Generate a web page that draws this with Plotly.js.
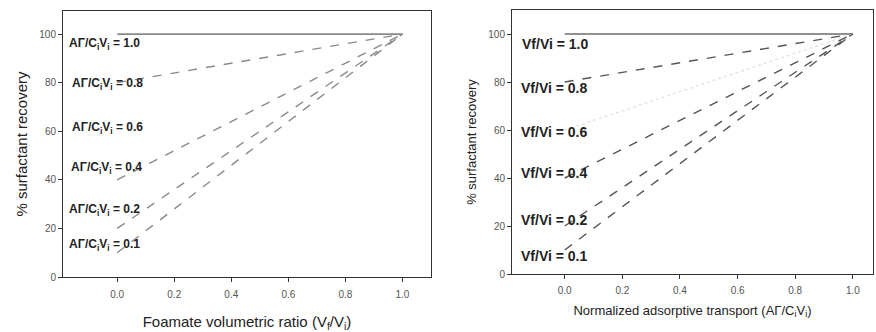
<!DOCTYPE html>
<html><head><meta charset="utf-8">
<script src="https://cdn.plot.ly/plotly-3.0.1.min.js"></script>
<style>html,body{margin:0;padding:0;background:#fff}#c{width:876px;height:332px}</style>
</head><body><div id="c"></div>
<script>
// Data
const xEnds = [0.0, 1.0];
const ratioValues = [1.0, 0.8, 0.6, 0.4, 0.2, 0.1];
const recoveryAtZero = [100, 80, 60, 40, 20, 10];
const recoveryAtOne = [100, 100, 100, 100, 100, 100];
const tickVals = [0.0, 0.2, 0.4, 0.6, 0.8, 1.0];
const tickText = ["0.0", "0.2", "0.4", "0.6", "0.8", "1.0"];
const leftLabels = ["AΓ/C<sub>i</sub>V<sub>i</sub> = 1.0","AΓ/C<sub>i</sub>V<sub>i</sub> = 0.8","AΓ/C<sub>i</sub>V<sub>i</sub> = 0.6","AΓ/C<sub>i</sub>V<sub>i</sub> = 0.4","AΓ/C<sub>i</sub>V<sub>i</sub> = 0.2","AΓ/C<sub>i</sub>V<sub>i</sub> = 0.1"];
const rightLabels = ["Vf/Vi = 1.0","Vf/Vi = 0.8","Vf/Vi = 0.6","Vf/Vi = 0.4","Vf/Vi = 0.2","Vf/Vi = 0.1"];

// placement (styles)
const leftLabelPos = [[-0.175,95.9],[-0.165,79.4],[-0.165,61.3],[-0.168,44.9],[-0.175,27.6],[-0.175,13.2]];
const rightLabelPos = [[-0.155,95.8],[-0.16,77.5],[-0.16,59.2],[-0.16,42.0],[-0.16,22.5],[-0.16,7.5]];

const traces = [];
ratioValues.forEach((r,i)=>{
  const y=[recoveryAtZero[i], recoveryAtOne[i]];
  const solid = i===0, faint = r===0.6;
  traces.push({x:xEnds, y:y, xaxis:'x', yaxis:'y', mode:'lines', hoverinfo:'skip', showlegend:false,
    line:{color: solid?'#333':(faint?'rgba(0,0,0,0)':'#8a8a8a'), width: solid?1:1.4, dash: solid?'solid':'dash'}});
  traces.push({x:xEnds, y:y, xaxis:'x2', yaxis:'y2', mode:'lines', hoverinfo:'skip', showlegend:false,
    line:{color: solid?'#222':(faint?'#e2e2e2':'#555'), width: solid?1:1.4, dash: solid?'solid':(faint?'dot':'dash')}});
});

const ann = [];
leftLabels.forEach((t,i)=>ann.push({xref:'x',yref:'y',x:leftLabelPos[i][0],y:leftLabelPos[i][1],text:'<b>'+t+'</b>',showarrow:false,xanchor:'left',yanchor:'middle',font:{family:'Arial, Liberation Sans',size:12,color:'#222'}}));
rightLabels.forEach((t,i)=>ann.push({xref:'x2',yref:'y2',x:rightLabelPos[i][0],y:rightLabelPos[i][1],text:'<b>'+t+'</b>',showarrow:false,xanchor:'left',yanchor:'middle',font:{family:'Arial, Liberation Sans',size:14,color:'#222'}}));

const axBase = {showgrid:false, zeroline:false, showline:true, mirror:true, linecolor:'#333', linewidth:1, ticks:'outside', ticklen:4, tickcolor:'#333', tickfont:{family:'Arial, Liberation Sans', size:10, color:'#555'}};

const layout = {
  width:876, height:332, margin:{l:0,r:0,t:0,b:0}, paper_bgcolor:'#fff', plot_bgcolor:'#fff',
  xaxis:Object.assign({}, axBase, {domain:[63/876, 431/876], range:[-0.19,1.10], tickvals:tickVals, ticktext:tickText, ticklabelstandoff:4,
    title:{text:'Foamate volumetric ratio (V<sub>f</sub>/V<sub>i</sub>)', font:{family:'Arial, Liberation Sans', size:15, color:'#222'}, standoff:17}}),
  yaxis:Object.assign({}, axBase, {domain:[55/332, 321/332], range:[0,109.5], dtick:20, tick0:0,
    title:{text:'% surfactant recovery', font:{family:'Arial, Liberation Sans', size:15, color:'#222'}, standoff:8}}),
  xaxis2:Object.assign({}, axBase, {domain:[512/876, 873/876], range:[-0.183,1.07], tickvals:tickVals, ticktext:tickText, anchor:'y2', ticklabelstandoff:3,
    title:{text:'Normalized adsorptive transport (AΓ/C<sub>i</sub>V<sub>i</sub>)', font:{family:'Arial, Liberation Sans', size:13, color:'#222'}, standoff:10}}),
  yaxis2:Object.assign({}, axBase, {domain:[58/332, 322/332], range:[0,110], dtick:20, tick0:0, anchor:'x2',
    title:{text:'% surfactant recovery', font:{family:'Arial, Liberation Sans', size:13, color:'#222'}, standoff:8}}),
  annotations:ann
};
Plotly.newPlot('c', traces, layout, {staticPlot:true, displayModeBar:false});
</script></body></html>
